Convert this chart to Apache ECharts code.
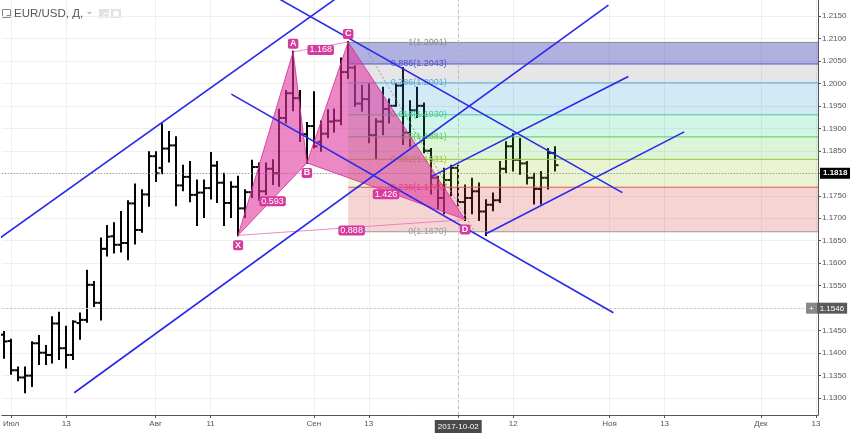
<!DOCTYPE html>
<html><head><meta charset="utf-8">
<script src="https://cdn.jsdelivr.net/npm/echarts@6/dist/echarts.min.js"></script>
<style>html,body{margin:0;padding:0;background:#fff}#c{width:850px;height:433px}</style>
</head><body><div id="c"></div>
<script>
// ---- data: daily EUR/USD bars, x = trading-day index (0 = 2017-07-03) ----
const barIndex = [-1,0,1,2,3,4,5,6,7,8,9,10,11,12,13,14,15,16,17,18,19,20,21,22,23,24,25,26,27,28,29,30,31,32,33,34,35,36,37,38,39,40,41,42,43,44,45,46,47,48,49,50,51,52,53,54,55,56,57,58,59,60,61,62,63,64,65,66,67,68,69,70,71,72,73,74,75,76,77,78,79];
const opens  = [1.1441,1.1427,1.1362,1.1346,1.1350,1.1422,1.1401,1.1396,1.1466,1.1411,1.1396,1.1467,1.1474,1.1552,1.1512,1.1632,1.1660,1.1641,1.1645,1.1733,1.1674,1.1753,1.1838,1.1812,1.1855,1.1862,1.1773,1.1792,1.1752,1.1757,1.1767,1.1817,1.1779,1.1734,1.1770,1.1722,1.1758,1.1814,1.1760,1.1810,1.1800,1.1923,1.1978,1.1967,1.1887,1.1905,1.1870,1.1888,1.1915,1.1917,1.2025,1.2035,1.1955,1.1965,1.1885,1.1915,1.1943,1.1950,1.1995,1.1890,1.1940,1.1950,1.1850,1.1790,1.1745,1.1785,1.1812,1.1736,1.1745,1.1760,1.1715,1.1730,1.1740,1.1810,1.1860,1.1830,1.1822,1.1790,1.1765,1.1790,1.1845];
const highs  = [1.1447,1.1430,1.1368,1.1368,1.1424,1.1438,1.1416,1.1480,1.1490,1.1459,1.1471,1.1488,1.1583,1.1558,1.1655,1.1683,1.1689,1.1714,1.1738,1.1775,1.1762,1.1847,1.1847,1.1909,1.1892,1.1880,1.1817,1.1825,1.1784,1.1784,1.1845,1.1825,1.1799,1.1780,1.1792,1.1762,1.1828,1.1822,1.1822,1.1829,1.1941,1.1983,1.2070,1.1983,1.1912,1.1980,1.1915,1.1940,1.1942,1.2055,1.2092,1.2038,1.1994,1.1998,1.1920,1.1990,1.1964,1.1998,1.2034,1.1960,1.1990,1.1955,1.1854,1.1792,1.1810,1.1817,1.1817,1.1773,1.1788,1.1777,1.1740,1.1755,1.1825,1.1869,1.1887,1.1876,1.1825,1.1799,1.1803,1.1854,1.1858];
const lows   = [1.1390,1.1354,1.1340,1.1313,1.1327,1.1376,1.1376,1.1379,1.1387,1.1368,1.1387,1.1432,1.1470,1.1505,1.1475,1.1617,1.1624,1.1626,1.1609,1.1644,1.1670,1.1728,1.1783,1.1800,1.1826,1.1729,1.1762,1.1738,1.1685,1.1703,1.1744,1.1736,1.1685,1.1703,1.1662,1.1703,1.1747,1.1741,1.1754,1.1776,1.1772,1.1913,1.1940,1.1872,1.1823,1.1858,1.1850,1.1880,1.1893,1.1909,1.2012,1.1950,1.1939,1.1869,1.1832,1.1887,1.1913,1.1950,1.1865,1.1860,1.1925,1.1847,1.1755,1.1722,1.1711,1.1751,1.1729,1.1696,1.1711,1.1696,1.1663,1.1718,1.1736,1.1803,1.1806,1.1799,1.1777,1.1733,1.1733,1.1766,1.1806];
const closes = [1.1426,1.1362,1.1346,1.1350,1.1422,1.1401,1.1396,1.1466,1.1411,1.1396,1.1470,1.1474,1.1552,1.1512,1.1632,1.1659,1.1641,1.1645,1.1733,1.1674,1.1753,1.1838,1.1800,1.1855,1.1862,1.1773,1.1792,1.1752,1.1757,1.1767,1.1817,1.1779,1.1734,1.1770,1.1722,1.1758,1.1814,1.1760,1.1810,1.1800,1.1923,1.1978,1.1967,1.1887,1.1905,1.1860,1.1888,1.1915,1.1917,1.2025,1.2035,1.1955,1.1965,1.1885,1.1915,1.1943,1.1950,1.1995,1.1890,1.1940,1.1950,1.1850,1.1790,1.1745,1.1785,1.1812,1.1736,1.1745,1.1760,1.1715,1.1730,1.1740,1.1810,1.1860,1.1830,1.1822,1.1790,1.1765,1.1790,1.1845,1.1818];

// x-axis ticks (trading-day index) and their labels
const xTickIdx = [0,8,21,29,44,52,65,73,87,95,109,117];
const xTickLabels = ['Июл','13','Авг','11','Сен','13','2017-10-02','12','Ноя','13','Дек','13'];
const crossIdx = 65;
// y-axis ticks
const yTickValues = [1.130,1.135,1.140,1.145,1.150,1.155,1.160,1.165,1.170,1.175,1.180,1.185,1.190,1.195,1.200,1.205,1.210,1.215];
const lastPrice = 1.1818;
const crossPrice = 1.1546;

// harmonic pattern X A B C D
const patNames = ['X','A','B','C','D'];
const patIdx = [33,41,43,49,66];
const patPrice = [1.1662,1.2070,1.1823,1.2092,1.1697];
const patRatioText = ['1.168','0.593','1.426','0.888'];
const patRatioPairs = [[1,3],[0,2],[2,4],[0,4]];

// fibonacci retracement
const fibStartIdx = 49;
const fibRatios = ['1','0.886','0.786','0.618','0.5','0.382','0.236','0'];
const fibPrices = [1.2091,1.2043,1.2001,1.1930,1.1881,1.1831,1.1769,1.1670];
const fibTrend = [[51,1.2091],[67.4,1.1670]];

// trend lines [[idx, price],[idx, price]]
const trendLines = [
  [[-2,1.1652],[48,1.2197]],
  [[9.17,1.1312],[86.83,1.2174]],
  [[38,1.2196],[88.86,1.1757]],
  [[32.01,1.1976],[87.56,1.1490]],
  [[61.02,1.1792],[89.73,1.2015]],
  [[68.85,1.1664],[97.85,1.1892]]
];

// ---- styles ----
const X_MIN = -1.35, X_MAX = 117.3, Y_MIN = 1.12625, Y_MAX = 1.21853;
const fibFill = ['rgba(60,60,180,0.40)','rgba(128,128,128,0.20)','rgba(30,144,210,0.20)','rgba(0,200,130,0.18)','rgba(60,200,40,0.18)','rgba(150,200,30,0.20)','rgba(220,60,60,0.22)'];
const fibLine = ['#8c8c8c','#5050c8','#5aa8dc','#3fcf8f','#5ccc5c','#9cc43a','#e05858','#9a9a9a'];
const PINK = '#d63a9e';
const FONT = 'Liberation Sans, Arial, sans-serif';

const chart = echarts.init(document.getElementById('c'), null, {renderer:'canvas'});

const ohlcData = barIndex.map((d,k)=>[d,opens[k],highs[k],lows[k],closes[k]]);

const series = [];

// bars
series.push({
  type:'custom', z:2, clip:true,
  encode:{x:0,y:[1,2,3,4]},
  data: ohlcData,
  renderItem(params, api){
    const i = api.value(0);
    const pO = api.coord([i, api.value(1)]);
    const pH = api.coord([i, api.value(2)]);
    const pL = api.coord([i, api.value(3)]);
    const pC = api.coord([i, api.value(4)]);
    const x = Math.round(pH[0]);
    const st = {stroke:'#050505', lineWidth:2};
    return {type:'group', children:[
      {type:'line', shape:{x1:x,y1:pH[1]-1,x2:x,y2:pL[1]+1}, style:st},
      {type:'line', shape:{x1:x-3.5,y1:pO[1],x2:x,y2:pO[1]}, style:st},
      {type:'line', shape:{x1:x,y1:pC[1],x2:x+3.5,y2:pC[1]}, style:st}
    ]};
  }
});

// fib bands
series.push({
  type:'custom', z:3, clip:true,
  data: fibFill.map((_,k)=>[fibStartIdx, fibPrices[k], fibPrices[k+1]]),
  encode:{x:0,y:[1,2]},
  renderItem(params, api){
    const k = params.dataIndex;
    const p1 = api.coord([fibStartIdx, fibPrices[k]]);
    const p2 = api.coord([X_MAX, fibPrices[k+1]]);
    return {type:'rect', shape:{x:p1[0], y:p1[1], width:p2[0]-p1[0], height:p2[1]-p1[1]}, style:{fill:fibFill[k]}};
  }
});
// fib lines + labels
series.push({
  type:'custom', z:4, clip:false,
  data: fibPrices.map((p)=>[fibStartIdx, p]),
  encode:{x:0,y:1},
  renderItem(params, api){
    const k = params.dataIndex;
    const a = api.coord([fibStartIdx, fibPrices[k]]);
    const b = api.coord([X_MAX, fibPrices[k]]);
    const t = api.coord([63.33, fibPrices[k]]);
    return {type:'group', children:[
      {type:'line', shape:{x1:a[0],y1:a[1],x2:b[0],y2:b[1]}, style:{stroke:fibLine[k], lineWidth:1}},
      {type:'text', x:t[0], y:t[1], style:{text: fibRatios[k]+'('+fibPrices[k].toFixed(4)+')', fill:fibLine[k], font:'9px '+FONT, align:'right', verticalAlign:'middle'}}
    ]};
  }
});

// fib diagonal (dotted)
series.push({
  type:'line', z:4, symbol:'none', silent:true,
  data: fibTrend,
  lineStyle:{color:'#999', width:1, type:[2,2]}
});

// pattern triangles
series.push({
  type:'custom', z:5, clip:true,
  data:[[0,1,2],[2,3,4]],
  renderItem(params, api){
    const tri = params.dataIndex===0 ? [0,1,2] : [2,3,4];
    const pts = tri.map(n=>api.coord([patIdx[n], patPrice[n]]));
    return {type:'polygon', shape:{points:pts}, style:{fill:'rgba(222,50,155,0.58)', stroke:'rgba(214,50,150,0.85)', lineWidth:1}};
  }
});
// thin pattern lines X-D, A-C
[[0,4],[1,3]].forEach(pr=>{
  series.push({type:'line', z:5, symbol:'none', silent:true,
    data: pr.map(n=>[patIdx[n], patPrice[n]]),
    lineStyle:{color:'rgba(230,110,190,0.8)', width:1}});
});

// trend lines
trendLines.forEach(tl=>{
  series.push({type:'line', z:6, symbol:'none', silent:true, clip:true,
    data: tl, lineStyle:{color:'#2828ec', width:1.6}});
});

// pattern labels
series.push({
  type:'custom', z:8, clip:false,
  data: patIdx.map((d,n)=>[d, patPrice[n]]),
  encode:{x:0,y:1},
  renderItem(params, api){
    const n = params.dataIndex;
    const p = api.coord([patIdx[n], patPrice[n]]);
    const up = (n===1 || n===3);
    const children = [{type:'text', x:p[0], y:p[1] + (up ? -8 : 10), style:{text:patNames[n], fill:'#fff', backgroundColor:PINK, padding:[1,2,0,2], borderRadius:2, font:'bold 9px '+FONT, align:'center', verticalAlign:'middle'}}];
    if (n < patRatioText.length) {
      const pr = patRatioPairs[n];
      const a = api.coord([patIdx[pr[0]], patPrice[pr[0]]]);
      const b = api.coord([patIdx[pr[1]], patPrice[pr[1]]]);
      children.push({type:'text', x:(a[0]+b[0])/2, y:(a[1]+b[1])/2 + (n===0?3:n===1?2:3), style:{text:patRatioText[n], fill:'#fff', backgroundColor:PINK, padding:[1,2,0,2], borderRadius:2, font:'9px '+FONT, align:'center', verticalAlign:'middle'}});
    }
    return {type:'group', children};
  }
});

// last price / crosshair lines
series.push({
  type:'line', z:7, data:[], symbol:'none',
  markLine:{
    silent:true, symbol:['none','none'], animation:false,
    data:[
      {yAxis:lastPrice, lineStyle:{color:'#8a8a8a', type:[1,2], width:1},
       label:{show:true, position:'end', distance:2, formatter:lastPrice.toFixed(4), backgroundColor:'#000', color:'#fff', padding:[2,3,1,3], fontSize:8, fontWeight:'bold', fontFamily:FONT}},
      {yAxis:crossPrice, lineStyle:{color:'#c8c8c8', type:[2,2], width:1},
       label:{show:true, position:'end', distance:-12, formatter:'{p|+}{v|'+crossPrice.toFixed(4)+'}',
         rich:{p:{backgroundColor:'#888',color:'#fff',padding:[2,3,1,3],fontSize:8,fontFamily:FONT},
               v:{backgroundColor:'#5a5a5a',color:'#fff',padding:[2,3,1,3],fontSize:8,fontFamily:FONT}}}},
      {xAxis:crossIdx, lineStyle:{color:'#bdbdbd', type:[3,3], width:1}, label:{show:false}}
    ]
  }
});

const option = {
  animation:false,
  backgroundColor:'#fff',
  textStyle:{fontFamily:FONT},
  title:{text:'EUR/USD, Д,', left:14, top:8, padding:0, textStyle:{fontSize:11.5, color:'#555', fontWeight:'normal', fontFamily:FONT}},
  graphic:[
    {type:'rect', left:2, top:9, shape:{width:8,height:8}, style:{fill:'#fff', stroke:'#888', lineWidth:1}},
    {type:'line', left:4, top:13, shape:{x1:0,y1:0,x2:4,y2:0}, style:{stroke:'#888', lineWidth:1}},
    {type:'polygon', left:87, top:12, shape:{points:[[0,0],[5,0],[2.5,2.5]]}, style:{fill:'#bbb'}},
    {type:'rect', left:99, top:9, shape:{width:10,height:9}, style:{fill:'#e2e2e2'}},
    {type:'circle', left:101, top:10.5, shape:{r:3}, style:{fill:'none', stroke:'#fff', lineWidth:1.2}},
    {type:'rect', left:111, top:9, shape:{width:10,height:9}, style:{fill:'#e2e2e2'}},
    {type:'circle', left:113, top:10.5, shape:{r:3}, style:{fill:'#fff'}}
  ],
  grid:{left:0, right:32, top:0, bottom:15, containLabel:false},
  xAxis:{
    type:'value', min:X_MIN, max:X_MAX,
    axisLine:{show:true, onZero:false, lineStyle:{color:'#555', width:1}},
    axisTick:{show:true, customValues:xTickIdx, length:3, lineStyle:{color:'#555'}},
    axisLabel:{show:true, customValues:xTickIdx, fontSize:8, color:'#555', margin:5, fontFamily:FONT,
      formatter:(v)=>{ const k = xTickIdx.indexOf(Math.round(v)); if(k<0) return ''; return Math.round(v)===crossIdx ? '{hl|'+xTickLabels[k]+'}' : xTickLabels[k]; },
      rich:{hl:{backgroundColor:'#4a4a4a', color:'#fff', padding:[3,3,2,3], fontSize:8, fontFamily:FONT}}},
    splitLine:{show:true, lineStyle:{color:'#efefef', width:1}}
  },
  yAxis:{
    type:'value', position:'right', min:Y_MIN, max:Y_MAX,
    axisLine:{show:true, onZero:false, lineStyle:{color:'#555', width:1}},
    axisTick:{show:true, customValues:yTickValues, length:3, lineStyle:{color:'#555'}},
    axisLabel:{show:true, customValues:yTickValues, fontSize:8, color:'#555', margin:4, fontFamily:FONT, formatter:(v)=>v.toFixed(4)},
    splitLine:{show:true, lineStyle:{color:'#efefef', width:1}}
  },
  series
};
chart.setOption(option);
</script></body></html>
